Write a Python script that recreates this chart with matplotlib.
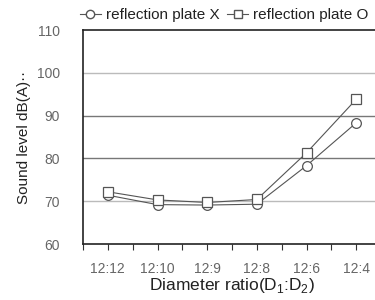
import matplotlib
matplotlib.use("Agg")
import matplotlib.pyplot as plt
from matplotlib.lines import Line2D

categories = ["12:12", "12:10", "12:9", "12:8", "12:6", "12:4"]
plate_x = [71.4, 69.2, 69.1, 69.3, 78.3, 88.3]
plate_o = [72.2, 70.3, 69.7, 70.4, 81.3, 93.8]
yticks = [60, 70, 80, 90, 100, 110]

plt.rcParams['font.family'] = ['Liberation Sans', 'DejaVu Sans']

fig = plt.figure(figsize=(3.75, 3.0), dpi=100)
ax = fig.add_axes([83/375, 56/300, 298/375, 214/300])

xs = list(range(len(categories)))
ax.plot(xs, plate_x, color='#555555', lw=0.8, marker='o', ms=7,
        mfc='white', mec='#555555', mew=0.9, label='reflection plate X', zorder=3)
ax.plot(xs, plate_o, color='#555555', lw=0.8, marker='s', ms=7,
        mfc='white', mec='#555555', mew=0.9, label='reflection plate O', zorder=4)

ax.set_ylim(60, 110)
ax.set_xlim(-0.5, 5.5)
ax.set_yticks(yticks)
ax.set_yticklabels([str(v) for v in yticks], color='#666666', fontsize=10)
ax.tick_params(axis='y', length=0, pad=16.5)

ax.set_xticks(xs)
ax.set_xticklabels(categories, color='#666666', fontsize=10)
ax.set_xticks([x - 0.5 for x in xs] + [5.5], minor=True)
ax.tick_params(axis='x', which='both', direction='out', length=4, width=0.8,
               color='#333333', pad=9)

for v, c in [(70, '#bbbbbb'), (80, '#777777'), (90, '#777777'), (100, '#bbbbbb')]:
    ax.axhline(v, color=c, lw=1.0, zorder=1)

for s in ['left', 'bottom', 'top']:
    ax.spines[s].set_color('#222222')
    ax.spines[s].set_linewidth(1.2)
ax.spines['right'].set_visible(False)

ax.set_ylabel('Sound level dB(A)··', fontsize=11, color='#222222', labelpad=4)
ax.set_xlabel('Diameter ratio(D$_\\mathregular{1}$:D$_\\mathregular{2}$)', fontsize=12.5,
              color='#222222', labelpad=0)

handles = [
    Line2D([0], [0], color='#555555', lw=0.8, marker='o', ms=6, mfc='white', mec='#555555'),
    Line2D([0], [0], color='#555555', lw=0.8, marker='s', ms=6, mfc='white', mec='#555555'),
]
fig.legend(handles, ['reflection plate X', 'reflection plate O'], loc='center',
           bbox_to_anchor=(224/375, 1 - 15/300), ncol=2, frameon=False, fontsize=11,
           handlelength=1.4, handletextpad=0.3, columnspacing=0.5,
           labelcolor='#222222')

fig.savefig('out.png', dpi=100)
